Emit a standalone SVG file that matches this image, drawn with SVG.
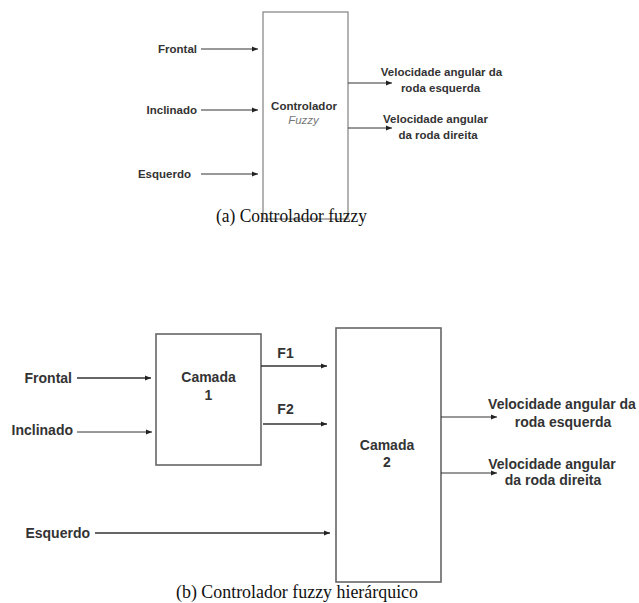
<svg xmlns="http://www.w3.org/2000/svg" width="639" height="603" viewBox="0 0 639 603">
<style>
.lbl{font-family:"Liberation Sans",Arial,sans-serif;font-weight:bold;fill:#333;}
.s{font-size:11.5px;}
.b{font-size:14px;}
.cap{font-family:"Liberation Serif","Times New Roman",serif;fill:#111;}
.box{fill:none;stroke:#8a8a8a;stroke-width:1.3;}
.box2{fill:none;stroke:#666;stroke-width:1.6;}
.c1{stroke:#333;stroke-width:1;fill:none;}
.c2{stroke:#333;stroke-width:1.4;fill:none;}
</style>
<defs>
<marker id="ah" markerUnits="userSpaceOnUse" markerWidth="7" markerHeight="6" refX="6" refY="3" orient="auto">
<path d="M0,0.5 L6,3 L0,5.5 z" fill="#222"/>
</marker>
</defs>
<rect width="639" height="603" fill="#fff"/>

<g id="top-controller">
<rect x="263" y="12" width="85" height="207" class="box"/>
<text class="lbl s" x="304" y="110" text-anchor="middle">Controlador</text>
<text x="303.5" y="124" text-anchor="middle" font-family="Liberation Sans,Arial,sans-serif" font-style="italic" font-size="11.5" fill="#777">Fuzzy</text>
</g>
<g id="top-inputs">
<text class="lbl s" x="197" y="53" text-anchor="end">Frontal</text>
<text class="lbl s" x="197" y="114" text-anchor="end">Inclinado</text>
<text class="lbl s" x="191" y="178" text-anchor="end">Esquerdo</text>
</g>
<g id="top-outputs">
<text class="lbl s" x="441.5" y="76" text-anchor="middle">Velocidade angular da</text>
<text class="lbl s" x="440.5" y="92" text-anchor="middle">roda esquerda</text>
<text class="lbl s" x="435.5" y="123" text-anchor="middle">Velocidade angular</text>
<text class="lbl s" x="438" y="139" text-anchor="middle">da roda direita</text>
</g>
<g id="top-connectors">
<line x1="201" y1="49" x2="258" y2="49" class="c1" marker-end="url(#ah)"/>
<line x1="201" y1="110" x2="258" y2="110" class="c1" marker-end="url(#ah)"/>
<line x1="201" y1="174" x2="258" y2="174" class="c1" marker-end="url(#ah)"/>
<line x1="348" y1="83" x2="392" y2="83" class="c1" marker-end="url(#ah)"/>
<line x1="348" y1="128" x2="392" y2="128" class="c1" marker-end="url(#ah)"/>
</g>
<text class="cap" x="216" y="222" font-size="19" textLength="151" lengthAdjust="spacingAndGlyphs">(a) Controlador fuzzy</text>

<g id="camada1">
<rect x="156" y="334" width="105" height="131" class="box2"/>
<text class="lbl b" x="208.5" y="382" text-anchor="middle">Camada</text>
<text class="lbl b" x="208.5" y="400" text-anchor="middle">1</text>
</g>
<g id="camada2">
<rect x="336" y="328" width="105" height="254" class="box2"/>
<text class="lbl b" x="387" y="450" text-anchor="middle">Camada</text>
<text class="lbl b" x="387" y="467" text-anchor="middle">2</text>
</g>
<g id="bottom-inputs">
<text class="lbl b" x="72" y="383" text-anchor="end">Frontal</text>
<text class="lbl b" x="73" y="435" text-anchor="end">Inclinado</text>
<text class="lbl b" x="90" y="538" text-anchor="end">Esquerdo</text>
</g>
<g id="bottom-labels">
<text class="lbl b" x="285.5" y="358" text-anchor="middle">F1</text>
<text class="lbl b" x="285.5" y="414" text-anchor="middle">F2</text>
<text class="lbl b" x="562" y="409" text-anchor="middle">Velocidade angular da</text>
<text class="lbl b" x="563" y="427" text-anchor="middle">roda esquerda</text>
<text class="lbl b" x="552" y="469" text-anchor="middle">Velocidade angular</text>
<text class="lbl b" x="553" y="485" text-anchor="middle">da roda direita</text>
</g>
<g id="bottom-connectors">
<line x1="77" y1="378" x2="151" y2="378" class="c2" marker-end="url(#ah)"/>
<line x1="77" y1="432" x2="152" y2="432" class="c1" marker-end="url(#ah)"/>
<line x1="95" y1="533" x2="330" y2="533" class="c2" marker-end="url(#ah)"/>
<line x1="261" y1="366" x2="327" y2="366" class="c2" marker-end="url(#ah)"/>
<line x1="263" y1="424" x2="327" y2="424" class="c2" marker-end="url(#ah)"/>
<line x1="441" y1="417" x2="497" y2="417" class="c1" marker-end="url(#ah)"/>
<line x1="441" y1="473" x2="497" y2="473" class="c1" marker-end="url(#ah)"/>
</g>
<text class="cap" x="176" y="598" font-size="19" textLength="242" lengthAdjust="spacingAndGlyphs">(b) Controlador fuzzy hierárquico</text>
</svg>
